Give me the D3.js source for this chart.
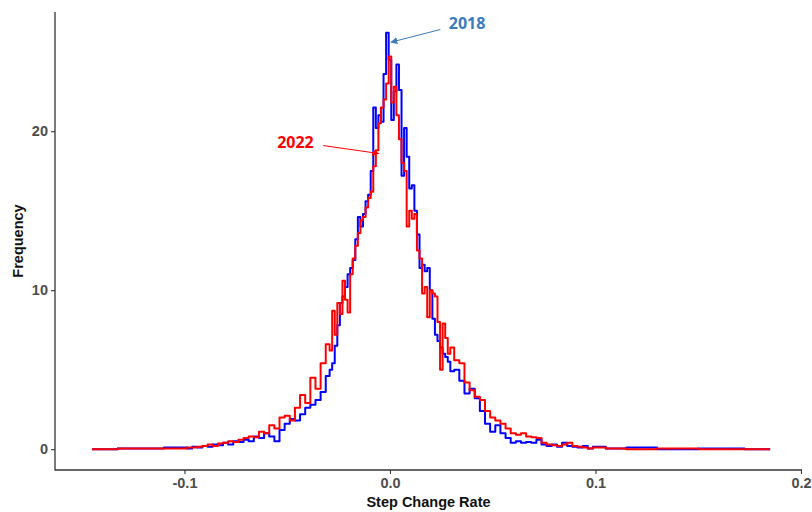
<!DOCTYPE html>
<html>
<head>
<meta charset="utf-8">
<script src="https://cdn.jsdelivr.net/npm/d3@7"></script>
<style>
  body { margin: 0; background: #fff; }
  svg { display: block; font-family: "Liberation Sans", Arial, sans-serif; }
</style>
</head>
<body>
<svg id="chart" width="812" height="512"></svg>
<script>
// bin positions (step change rate)
var rates = [
  -0.145, -0.12, -0.1, -0.0975, -0.095, -0.0925, -0.09, -0.0875, -0.085, -0.0825,
  -0.08, -0.0775, -0.075, -0.0725, -0.07, -0.0675, -0.065, -0.0625, -0.06, -0.0575,
  -0.055, -0.0525, -0.05, -0.0475, -0.045, -0.0425, -0.04, -0.0375, -0.035, -0.0325,
  -0.03, -0.02875, -0.0275, -0.02625, -0.025, -0.02375, -0.0225, -0.02125, -0.02, -0.01875,
  -0.0175, -0.01625, -0.015, -0.01375, -0.0125, -0.01125, -0.01, -0.00875, -0.0075, -0.00625,
  -0.005, -0.00375, -0.0025, -0.00125, 0, 0.00125, 0.0025, 0.00375, 0.005, 0.00625,
  0.0075, 0.00875, 0.01, 0.01125, 0.0125, 0.01375, 0.015, 0.01625, 0.0175, 0.01875,
  0.02, 0.02125, 0.0225, 0.02375, 0.025, 0.02625, 0.0275, 0.02875, 0.03, 0.0325,
  0.035, 0.0375, 0.04, 0.0425, 0.045, 0.0475, 0.05, 0.0525, 0.055, 0.0575,
  0.06, 0.0625, 0.065, 0.0675, 0.07, 0.0725, 0.075, 0.0775, 0.08, 0.0825,
  0.085, 0.0875, 0.09, 0.0925, 0.095, 0.0975, 0.1, 0.11, 0.12, 0.14,
  0.16, 0.185
];

var freq2018 = [
  0, 0.05, 0.1, 0.05, 0.15, 0.1, 0.2, 0.15, 0.3, 0.25,
  0.4, 0.3, 0.5, 0.45, 0.6, 0.5, 0.8, 0.7, 1.0, 0.8,
  0.5, 1.2, 1.6, 1.9, 1.8, 2.2, 2.6, 2.8, 3.1, 3.6,
  4.6, 5.0, 5.4, 6.5, 7.8, 9.2, 9.6, 10.2, 11.0, 11.4,
  11.9, 13.2, 14.6, 14.0, 14.8, 15.6, 16.0, 17.5, 21.5, 20.2,
  21.0, 20.6, 23.6, 26.2, 24.5, 20.7, 22.5, 24.2, 22.6, 17.2,
  20.2, 18.4, 16.4, 16.6, 15.0, 13.5, 11.4, 11.6, 11.2, 11.4,
  10.0, 8.2, 7.2, 6.8, 6.4, 6.0, 5.8, 5.5, 4.9, 5.0,
  4.3, 3.5, 3.8, 3.2, 2.4, 1.6, 1.1, 1.5, 1.0, 0.7,
  0.4, 0.5, 0.4, 0.45, 0.4, 0.6, 0.3, 0.2, 0.3, 0.15,
  0.4, 0.2, 0.15, 0.1, 0.2, 0.05, 0.15, 0.05, 0.1, 0,
  0.05, 0
];

var freq2022 = [
  0, 0.05, 0.05, 0.1, 0.1, 0.15, 0.2, 0.3, 0.2, 0.35,
  0.4, 0.5, 0.45, 0.6, 0.7, 0.8, 0.75, 1.1, 1.0, 1.5,
  1.3, 2.0, 2.1, 1.8, 2.6, 3.4, 2.9, 4.5, 3.8, 5.4,
  6.6, 6.2, 8.7, 7.2, 9.2, 8.5, 10.6, 9.4, 8.6, 11.0,
  12.0, 12.8, 13.6, 14.4, 14.6, 15.2, 15.8, 16.2, 17.8, 18.8,
  20.5, 21.5, 22.0, 23.0, 24.7, 21.8, 22.8, 21.0, 19.5, 18.0,
  17.5, 14.0, 15.0, 14.5, 14.8, 12.5, 12.0, 9.8, 10.2, 8.3,
  10.0, 9.8, 9.6, 8.0, 5.0, 7.9, 7.0, 6.0, 6.4, 5.6,
  5.4, 4.2, 3.7, 3.3, 3.1, 2.4, 2.0, 1.8, 1.6, 1.3,
  1.0, 0.9, 1.0, 0.8, 0.75, 0.7, 0.4, 0.3, 0.25, 0.2,
  0.3, 0.4, 0.2, 0.15, 0.1, 0.05, 0.1, 0.05, 0, 0.05,
  0, 0
];

var xTicks = [-0.1, 0, 0.1, 0.2];
var xTickLabels = ["-0.1", "0.0", "0.1", "0.2"];
var yTicks = [0, 10, 20];

// annotation labels and arrows, in data units
var notes = [
  { text: "2018", color: "#3a7bbd", lx: 0.0375, ly: 26.8, x1: 0.0245, y1: 26.4, x2: 0.0005, y2: 25.6 },
  { text: "2022", color: "#ff0000", lx: -0.046, ly: 19.3, x1: -0.0325, y1: 19.1, x2: -0.0055, y2: 18.6 }
];

function drawChart() {
  var svg = d3.select("#chart");
  var mLeft = 55, mRight = 802, mTop = 12, mBottom = 470;

  var x = d3.scaleLinear().domain([-0.163, 0.2005]).range([mLeft, mRight]);
  var y = d3.scaleLinear().domain([-1.31, 27.5]).range([mBottom, mTop]);

  var defs = svg.append("defs");
  notes.forEach(function (n, i) {
    defs.append("marker")
      .attr("id", "arrow" + i)
      .attr("viewBox", "0 0 10 10")
      .attr("refX", 9)
      .attr("refY", 5)
      .attr("markerWidth", 7)
      .attr("markerHeight", 7)
      .attr("markerUnits", "userSpaceOnUse")
      .attr("orient", "auto")
      .append("path")
      .attr("d", "M0,0 L10,5 L0,10 z")
      .attr("fill", n.color);
  });

  // axes
  var xAxis = d3.axisBottom(x)
    .tickValues(xTicks)
    .tickFormat(function (d, i) { return xTickLabels[i]; })
    .tickSize(4)
    .tickPadding(4);

  var yAxis = d3.axisLeft(y)
    .tickValues(yTicks)
    .tickSize(4)
    .tickPadding(3);

  var gx = svg.append("g")
    .attr("transform", "translate(0," + mBottom + ")")
    .call(xAxis);

  var gy = svg.append("g")
    .attr("transform", "translate(" + mLeft + ",0)")
    .call(yAxis);

  [gx, gy].forEach(function (g) {
    g.select(".domain").remove();
    g.selectAll(".tick line").attr("stroke", "#333").attr("stroke-width", 1.1);
    g.selectAll(".tick text")
      .attr("fill", "#4d4d4d")
      .style("font-size", "14.5px")
      .style("font-weight", "bold")
      .style("font-family", "'Liberation Sans', Arial, sans-serif");
  });

  svg.append("line")
    .attr("x1", mLeft).attr("x2", mLeft)
    .attr("y1", mTop).attr("y2", mBottom + 0.5)
    .attr("stroke", "#333").attr("stroke-width", 1.3);
  svg.append("line")
    .attr("x1", mLeft).attr("x2", mRight)
    .attr("y1", mBottom).attr("y2", mBottom)
    .attr("stroke", "#333").attr("stroke-width", 1.3);

  // axis titles
  svg.append("text")
    .attr("x", (mLeft + mRight) / 2)
    .attr("y", 507)
    .attr("text-anchor", "middle")
    .style("font-size", "14.5px")
    .style("font-weight", "bold")
    .attr("fill", "#111")
    .text("Step Change Rate");

  svg.append("text")
    .attr("transform", "translate(23," + ((mTop + mBottom) / 2) + ") rotate(-90)")
    .attr("text-anchor", "middle")
    .style("font-size", "14.5px")
    .style("font-weight", "bold")
    .attr("fill", "#111")
    .text("Frequency");

  // frequency lines
  var freqLine = d3.line()
    .curve(d3.curveStep)
    .x(function (d, i) { return x(rates[i]); })
    .y(function (d) { return y(d); });

  svg.append("path")
    .datum(freq2018)
    .attr("fill", "none")
    .attr("stroke", "#0000ff")
    .attr("stroke-width", 2)
    .attr("stroke-linejoin", "round")
    .attr("d", freqLine);

  svg.append("path")
    .datum(freq2022)
    .attr("fill", "none")
    .attr("stroke", "#ff0000")
    .attr("stroke-width", 2)
    .attr("stroke-linejoin", "round")
    .attr("d", freqLine);

  // annotations
  notes.forEach(function (n, i) {
    svg.append("line")
      .attr("x1", x(n.x1)).attr("y1", y(n.y1))
      .attr("x2", x(n.x2)).attr("y2", y(n.y2))
      .attr("stroke", n.color)
      .attr("stroke-width", 1)
      .attr("marker-end", "url(#arrow" + i + ")");
    svg.append("text")
      .attr("x", x(n.lx))
      .attr("y", y(n.ly))
      .attr("dy", "0.35em")
      .attr("text-anchor", "middle")
      .attr("fill", n.color)
      .style("font-size", "16px")
      .style("font-weight", "bold")
      .style("font-family", "'Open Sans', 'Liberation Sans', sans-serif")
      .text(n.text);
  });
}

drawChart();
</script>
</body>
</html>
